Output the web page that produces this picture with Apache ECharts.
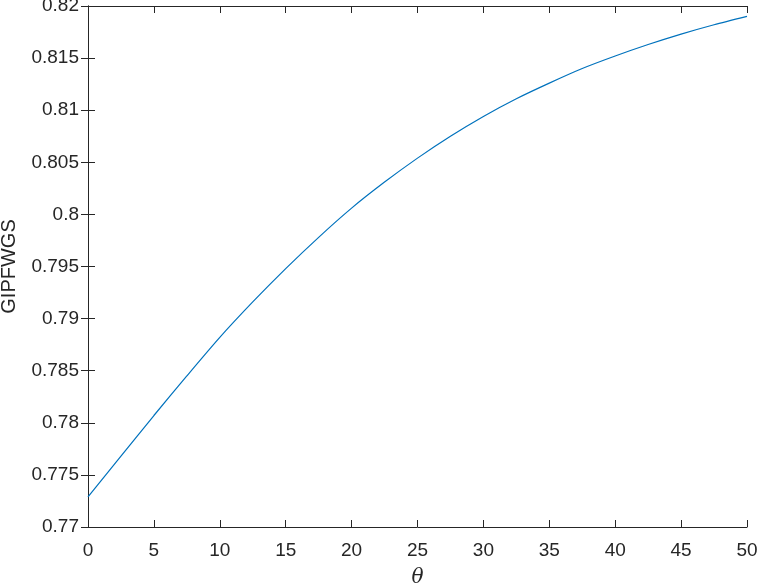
<!DOCTYPE html>
<html>
<head>
<meta charset="utf-8">
<script src="https://cdn.jsdelivr.net/npm/echarts@6/dist/echarts.min.js"></script>
<style>
  html, body { margin: 0; padding: 0; background: #fff; }
  #chart { width: 757px; height: 587px; }
</style>
</head>
<body>
<div id="chart"></div>
<script>
// theta values and the curve
const thetaVals = [0, 2.5, 5, 7.5, 10, 12.5, 15, 17.5, 20, 22.5, 25,
  27.5, 30, 32.5, 35, 37.5, 40, 42.5, 45, 47.5, 50];
const gipfwgsVals = [0.7729, 0.7768, 0.7807, 0.7845, 0.7882, 0.7916, 0.7948,
  0.7978, 0.8006, 0.8031, 0.8054, 0.8075, 0.8094, 0.8111, 0.8126, 0.8140,
  0.8152, 0.8163, 0.8173, 0.8182, 0.8190];
const yTicks = [0.77, 0.775, 0.78, 0.785, 0.79, 0.795, 0.8, 0.805, 0.81, 0.815, 0.82];

const axisColor = "#262626";
const font = "'Liberation Sans', Arial, Helvetica, sans-serif";

let chart = echarts.init(document.getElementById("chart"), null, { renderer: "canvas" });

let points = thetaVals.map((t, i) => [t, gipfwgsVals[i]]);

function fmtY(v) {
  // MATLAB style: drop trailing zeros
  return parseFloat(v.toFixed(3)).toString();
}

let baseX = {
  type: "value",
  min: 0,
  max: 50,
  interval: 5,
  axisLine: { show: true, lineStyle: { color: axisColor, width: 1 } },
  axisTick: { show: true, inside: true, length: 7, lineStyle: { color: axisColor } },
  splitLine: { show: false },
};
let baseY = {
  type: "value",
  min: 0.77,
  max: 0.82,
  interval: 0.005,
  axisLine: { show: true, lineStyle: { color: axisColor, width: 1 } },
  axisTick: { show: true, inside: true, length: 7, lineStyle: { color: axisColor } },
  splitLine: { show: false },
};

let option = {
  animation: false,
  backgroundColor: "#fff",
  grid: { left: 88, right: 10, top: 6, bottom: 60, containLabel: false, outerBoundsMode: "none" },
  xAxis: [
    Object.assign({}, baseX, {
      position: "bottom",
      name: "θ",
      nameLocation: "middle",
      nameGap: 41,
      nameTextStyle: { fontFamily: "'DejaVu Serif', 'Liberation Serif', serif", fontStyle: "italic", fontSize: 20, color: axisColor },
      axisLabel: { fontFamily: font, fontSize: 19, color: axisColor, margin: 14 },
    }),
    Object.assign({}, baseX, { position: "top", axisLabel: { show: false } }),
  ],
  yAxis: [
    Object.assign({}, baseY, {
      position: "left",
      name: "GIPFWGS",
      nameLocation: "middle",
      nameGap: 69,
      nameTextStyle: { fontFamily: font, fontSize: 20, color: axisColor },
      axisLabel: {
        fontFamily: font, fontSize: 19, color: axisColor, margin: 9,
        formatter: (v) => {
          let hit = yTicks.find((t) => Math.abs(t - v) < 1e-9);
          return hit === undefined ? "" : fmtY(hit);
        },
      },
    }),
    Object.assign({}, baseY, { position: "right", axisLabel: { show: false } }),
  ],
  series: [
    {
      type: "line",
      data: points,
      xAxisIndex: 0,
      yAxisIndex: 0,
      smooth: 0.25,
      showSymbol: false,
      lineStyle: { color: "#0072BD", width: 1.2 },
    },
  ],
};

chart.setOption(option);
</script>
</body>
</html>
